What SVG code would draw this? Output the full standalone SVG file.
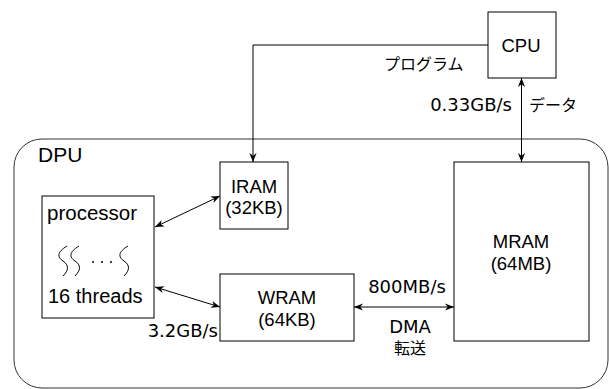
<svg xmlns="http://www.w3.org/2000/svg" width="609" height="389" viewBox="0 0 609 389">
<style>
.box{fill:#fff;stroke:#000;stroke-width:1}
.lbl{font-family:"Liberation Sans",Arial,sans-serif;font-size:18.5px;fill:#000;text-anchor:middle}
.jp{font-family:"Noto Sans CJK JP","Noto Sans",sans-serif;font-size:16px;fill:#000}
.lat{font-family:"DejaVu Sans","Noto Sans CJK JP",sans-serif;font-size:18px;fill:#000}
.ln{fill:none;stroke:#000;stroke-width:1}
.sq{fill:none;stroke:#000;stroke-width:1}
</style>
<defs>
<marker id="ah" viewBox="0 0 10 10" refX="10" refY="5" markerWidth="9" markerHeight="9" markerUnits="userSpaceOnUse" orient="auto-start-reverse">
<path d="M0,1 L10,5 L0,9 L3,5 z" fill="#000"/>
</marker>
</defs>
<g id="dpu">
<rect x="14" y="139" width="594" height="249" rx="28" ry="28" fill="none" stroke="#333" stroke-width="1"/>
<text x="38" y="162" font-family="'Liberation Sans',Arial,sans-serif" font-size="21" fill="#000">DPU</text>
</g>
<g id="cpu">
<rect class="box" x="488" y="12" width="68" height="66"/>
<text class="lbl" x="521" y="52">CPU</text>
</g>
<g id="iram">
<rect class="box" x="220" y="162" width="68" height="67"/>
<text class="lbl" x="254" y="193">IRAM</text>
<text class="lbl" x="254" y="214">(32KB)</text>
</g>
<g id="wram">
<rect class="box" x="220" y="274" width="134" height="67"/>
<text class="lbl" x="287" y="304">WRAM</text>
<text class="lbl" x="287" y="326">(64KB)</text>
</g>
<g id="mram">
<rect class="box" x="454" y="162" width="135" height="179"/>
<text class="lbl" x="521" y="248">MRAM</text>
<text class="lbl" x="521" y="270">(64MB)</text>
</g>
<g id="processor">
<rect class="box" x="42" y="196" width="112" height="122"/>
<text x="47" y="220" font-family="'Liberation Sans',Arial,sans-serif" font-size="20.5" fill="#000">processor</text>
<path class="sq" d="M67,246 C57,252 57,257 63,261 S69,270 63,276"/>
<path class="sq" d="M79,246 C69,252 69,257 75,261 S81,270 75,276"/>
<circle cx="93" cy="262" r="1" fill="#000"/>
<circle cx="102" cy="262" r="1" fill="#000"/>
<circle cx="111" cy="262" r="1" fill="#000"/>
<path class="sq" d="M128,246 C118,252 118,257 124,261 S130,270 124,276"/>
<text x="48" y="303" font-family="'Liberation Sans',Arial,sans-serif" font-size="20" fill="#000">16 threads</text>
</g>
<g id="connectors">
<polyline class="ln" points="488,45 253,45 253,162" marker-end="url(#ah)"/>
<line class="ln" x1="521.5" y1="78" x2="521.5" y2="162" marker-start="url(#ah)" marker-end="url(#ah)"/>
<line class="ln" x1="155" y1="227" x2="220" y2="196" marker-start="url(#ah)" marker-end="url(#ah)"/>
<line class="ln" x1="155" y1="287" x2="220" y2="307" marker-start="url(#ah)" marker-end="url(#ah)"/>
<line class="ln" x1="354" y1="307" x2="454" y2="307" marker-start="url(#ah)" marker-end="url(#ah)"/>
</g>
<g id="labels">
<text class="jp" x="384" y="70" font-size="17">プログラム</text>
<text class="lat" x="512" y="111" text-anchor="end">0.33GB/s</text>
<text class="jp" x="529" y="111">データ</text>
<text class="lat" x="407" y="293" text-anchor="middle" font-size="19">800MB/s</text>
<text class="lat" x="410" y="333" text-anchor="middle" font-size="17">DMA</text>
<text class="jp" x="410" y="354" text-anchor="middle" font-size="17">転送</text>
<text class="lat" x="218" y="337" text-anchor="end">3.2GB/s</text>
</g>
</svg>
